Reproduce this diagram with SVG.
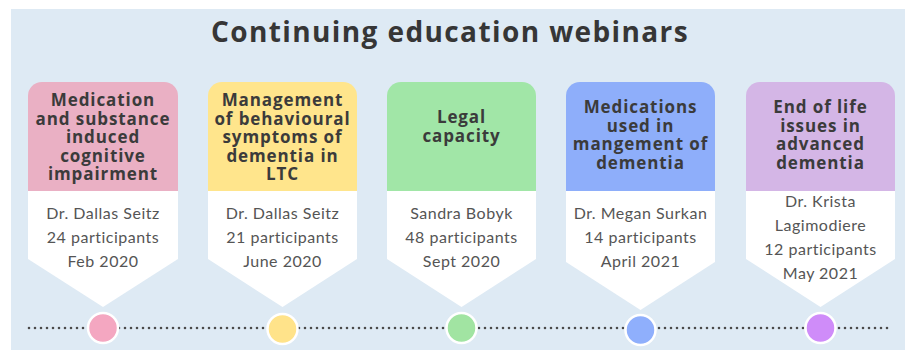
<svg xmlns="http://www.w3.org/2000/svg" width="915" height="350" viewBox="0 0 915 350">
  <style>
    .title { font-family: "Open Sans", "Liberation Sans", sans-serif; font-weight: 700; font-size: 28px; letter-spacing: 1.4px; fill: #363636; text-anchor: middle; }
    .head { font-family: "Open Sans", "Liberation Sans", sans-serif; font-weight: 700; font-size: 17px; letter-spacing: 0.9px; fill: #3b3b3b; text-anchor: middle; }
    .body { font-family: "Lato", "Open Sans", "Liberation Sans", sans-serif; font-size: 16px; letter-spacing: 0.5px; fill: #555555; text-anchor: middle; }
    .tag { fill: #ffffff; }
    .dot { stroke: #ffffff; stroke-width: 2.5; }
    .timeline { stroke: #4a4a4a; stroke-width: 2.6; stroke-linecap: round; stroke-dasharray: 0 6; fill: none; }
  </style>

  <!-- panel -->
  <rect x="0" y="0" width="915" height="350" fill="#ffffff"/>
  <rect x="11" y="9" width="894" height="341" fill="#deeaf4"/>

  <text class="title" x="450" y="42">Continuing education webinars</text>

  <!-- timeline -->
  <g id="connectors">
    <line class="timeline" x1="29" y1="328" x2="893" y2="328"/>
  </g>

  <!-- webinar 1 -->
  <g id="webinar1">
    <path d="M28,191 V96 a14,14 0 0 1 14,-14 H164 a14,14 0 0 1 14,14 V191 Z" fill="#eab0c4"/>
    <text class="head" x="103" y="106">Medication</text>
    <text class="head" x="103" y="124.5">and substance</text>
    <text class="head" x="103" y="143">induced</text>
    <text class="head" x="103" y="161.5">cognitive</text>
    <text class="head" x="103" y="180">impairment</text>
    <path class="tag" d="M28,191 H178 V259 L103,307 L28,259 Z"/>
    <text class="body" x="103" y="219">Dr. Dallas Seitz</text>
    <text class="body" x="103" y="243">24 participants</text>
    <text class="body" x="103" y="267">Feb 2020</text>
    <circle class="dot" cx="103" cy="328" r="15" fill="#f4a7c1"/>
  </g>

  <!-- webinar 2 -->
  <g id="webinar2">
    <path d="M208,191 V96 a14,14 0 0 1 14,-14 H343 a14,14 0 0 1 14,14 V191 Z" fill="#ffe58c"/>
    <text class="head" x="282.5" y="106">Management</text>
    <text class="head" x="282.5" y="124.5">of behavioural</text>
    <text class="head" x="282.5" y="143">symptoms of</text>
    <text class="head" x="282.5" y="161.5">dementia in</text>
    <text class="head" x="282.5" y="180">LTC</text>
    <path class="tag" d="M208,191 H357 V259 L282.5,307 L208,259 Z"/>
    <text class="body" x="282.5" y="219">Dr. Dallas Seitz</text>
    <text class="body" x="282.5" y="243">21 participants</text>
    <text class="body" x="282.5" y="267">June 2020</text>
    <circle class="dot" cx="282.5" cy="329" r="15" fill="#ffe38a"/>
  </g>

  <!-- webinar 3 -->
  <g id="webinar3">
    <path d="M387,191 V96 a14,14 0 0 1 14,-14 H522 a14,14 0 0 1 14,14 V191 Z" fill="#a1e6a7"/>
    <text class="head" x="461.5" y="123">Legal</text>
    <text class="head" x="461.5" y="142">capacity</text>
    <path class="tag" d="M387,191 H536 V259 L461.5,307 L387,259 Z"/>
    <text class="body" x="461.5" y="219">Sandra Bobyk</text>
    <text class="body" x="461.5" y="243">48 participants</text>
    <text class="body" x="461.5" y="267">Sept 2020</text>
    <circle class="dot" cx="461.5" cy="328" r="15" fill="#a1e4a2"/>
  </g>

  <!-- webinar 4 -->
  <g id="webinar4">
    <path d="M566,191 V96 a14,14 0 0 1 14,-14 H701 a14,14 0 0 1 14,14 V191 Z" fill="#8eaefa"/>
    <text class="head" x="640.5" y="113">Medications</text>
    <text class="head" x="640.5" y="131.5">used in</text>
    <text class="head" x="640.5" y="150">mangement of</text>
    <text class="head" x="640.5" y="168.5">dementia</text>
    <path class="tag" d="M566,191 H715 V262 L640.5,310 L566,262 Z"/>
    <text class="body" x="640.5" y="219">Dr. Megan Surkan</text>
    <text class="body" x="640.5" y="243">14 participants</text>
    <text class="body" x="640.5" y="267">April 2021</text>
    <circle class="dot" cx="640.5" cy="330" r="15" fill="#8faffc"/>
  </g>

  <!-- webinar 5 -->
  <g id="webinar5">
    <path d="M746,191 V96 a14,14 0 0 1 14,-14 H881 a14,14 0 0 1 14,14 V191 Z" fill="#d4b6e6"/>
    <text class="head" x="820.5" y="113">End of life</text>
    <text class="head" x="820.5" y="131.5">issues in</text>
    <text class="head" x="820.5" y="150">advanced</text>
    <text class="head" x="820.5" y="168.5">dementia</text>
    <path class="tag" d="M746,191 H895 V259 L820.5,307 L746,259 Z"/>
    <text class="body" x="820.5" y="207">Dr. Krista</text>
    <text class="body" x="820.5" y="231">Lagimodiere</text>
    <text class="body" x="820.5" y="255">12 participants</text>
    <text class="body" x="820.5" y="279">May 2021</text>
    <circle class="dot" cx="820.5" cy="328" r="15" fill="#cf8cf9"/>
  </g>
</svg>
